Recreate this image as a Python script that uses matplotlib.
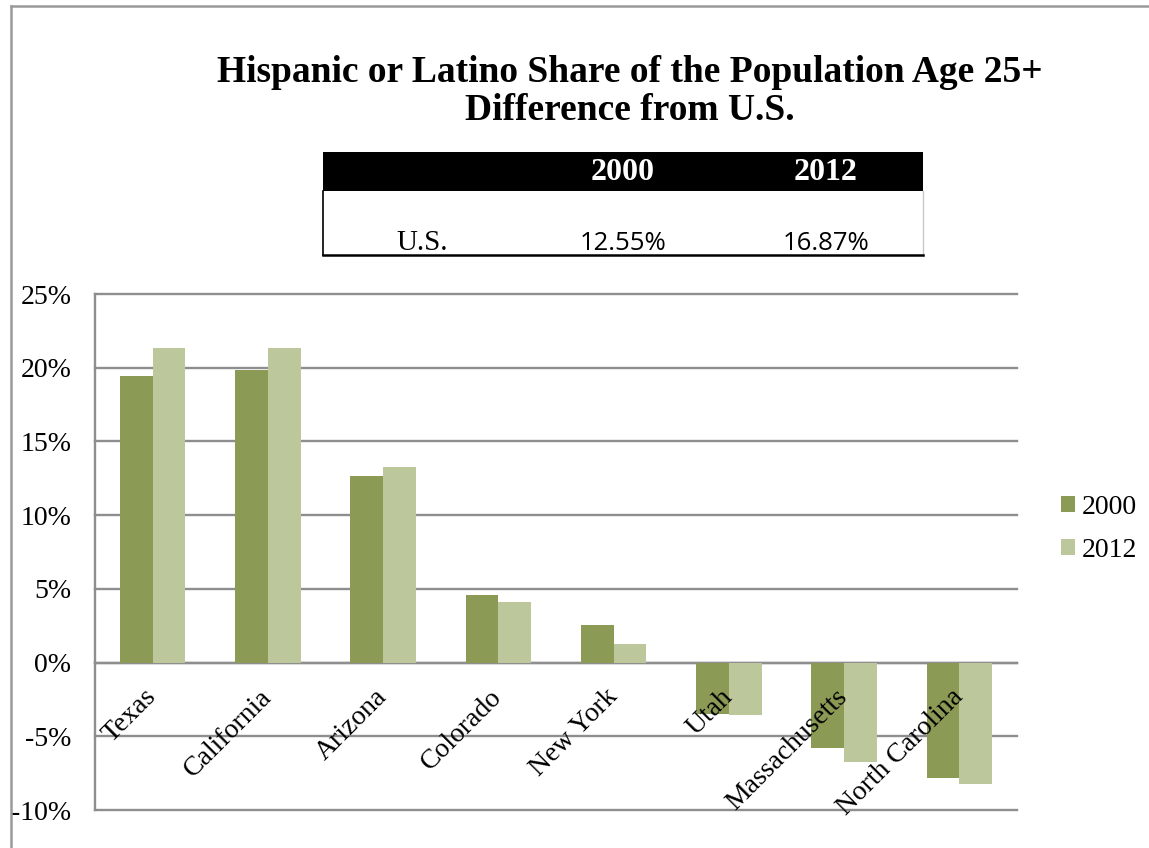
import numpy as np
import matplotlib
matplotlib.use('Agg')
import matplotlib.pyplot as plt
from matplotlib.patches import Rectangle
from matplotlib.lines import Line2D

# difference from the U.S. share, in percentage points
states = ['Texas', 'California', 'Arizona', 'Colorado', 'New York',
          'Utah', 'Massachusetts', 'North Carolina']
diff_2000 = [19.43, 19.86, 12.68, 4.56, 2.55, -3.52, -5.82, -7.86]
diff_2012 = [21.35, 21.32, 13.27, 4.08, 1.24, -3.59, -6.73, -8.22]
series_names = ['2000', '2012']

y_ticks = [-10, -5, 0, 5, 10, 15, 20, 25]
y_labels = ['-10%', '-5%', '0%', '5%', '10%', '15%', '20%', '25%']

# small U.S. reference table above the chart
table_header = ['', '2000', '2012']
table_row = ['U.S.', '12.55%', '16.87%']

title_lines = ['Hispanic or Latino Share of the Population Age 25+',
               'Difference from U.S.']

dark_green = '#8b9b55'
light_green = '#bcc79b'
grid_gray = '#8e8e8e'
serif = 'Liberation Serif'

W, H = 1149, 848
fig = plt.figure(figsize=(W / 100, H / 100), dpi=100)
fig.patch.set_facecolor('white')

# main bar chart
ax = fig.add_axes([95 / W, 1 - 810 / H, (1017 - 95) / W, (810 - 294) / H])
ax.set_axisbelow(False)  # state names sit on top of the bars
x = np.arange(len(states))
width = 0.284
b1 = ax.bar(x - width / 2, diff_2000, width, color=dark_green, zorder=2)
b2 = ax.bar(x + width / 2, diff_2012, width, color=light_green, zorder=2)
ax.set_xlim(-0.5, len(states) - 0.5)
ax.set_ylim(-10, 25)

for yv in y_ticks:
    ax.axhline(yv, color=grid_gray, lw=1.7, zorder=1, clip_on=False)

ax.set_yticks(y_ticks, y_labels)
ax.tick_params(axis='y', length=0, pad=17, labelsize=20)
for lbl in ax.get_yticklabels():
    lbl.set_fontfamily(serif)

for side in ['top', 'right']:
    ax.spines[side].set_visible(False)
ax.spines['left'].set_color(grid_gray)
ax.spines['left'].set_linewidth(1.7)
ax.spines['left'].set_zorder(1)
ax.spines['bottom'].set_position(('data', 0))
ax.spines['bottom'].set_color(grid_gray)
ax.spines['bottom'].set_linewidth(1.7)
ax.spines['bottom'].set_zorder(1)

ax.set_xticks(x, states)
ax.tick_params(axis='x', length=0, pad=22, labelsize=20)
for lbl in ax.get_xticklabels():
    lbl.set_fontfamily(serif)
    lbl.set_rotation(45)
    lbl.set_ha('right')
    lbl.set_va('center')
    lbl.set_rotation_mode('anchor')

fig.legend([b1, b2], series_names, loc='center left',
           bbox_to_anchor=(1061 / W, 1 - 529 / H), frameon=False,
           prop={'family': serif, 'size': 20}, handlelength=0.5,
           handleheight=0.5, handletextpad=0.25, labelspacing=0.65,
           borderpad=0, borderaxespad=0)

# overlay in pixel coordinates for the frame, title and table
ov = fig.add_axes([0, 0, 1, 1], facecolor='none')
ov.set_xlim(0, W)
ov.set_ylim(H, 0)
ov.axis('off')

ov.add_line(Line2D([11, 11], [6, H], color='#9a9a9a', lw=1.8))
ov.add_line(Line2D([11, W], [6, 6], color='#9a9a9a', lw=1.8))

ov.text(630, 73, title_lines[0], ha='center', va='center', fontsize=27,
        fontweight='bold', family=serif)
ov.text(630, 110, title_lines[1], ha='center', va='center', fontsize=27,
        fontweight='bold', family=serif)

tx0, tx1 = 323, 923
ov.add_patch(Rectangle((tx0, 152), tx1 - tx0, 39, color='black', lw=0))
ov.add_line(Line2D([tx0, tx0], [191, 255], color='black', lw=1.2))
ov.add_line(Line2D([tx1, tx1], [191, 255], color='#c8c8c8', lw=1.0))
ov.add_line(Line2D([tx0, tx1], [255, 255], color='black', lw=1.8))
col_x = [422, 623, 826]
for i, (cx, head, val) in enumerate(zip(col_x, table_header, table_row)):
    ov.text(cx, 173, head, ha='center', va='center', color='white',
            fontsize=23, fontweight='bold', family=serif)
    if i == 0:
        ov.text(cx, 250, val, ha='center', va='baseline', fontsize=21,
                family=serif)
    else:
        ov.text(cx, 250, val, ha='center', va='baseline', fontsize=18.5,
                family='Open Sans')

fig.savefig('out.png', dpi=100)
